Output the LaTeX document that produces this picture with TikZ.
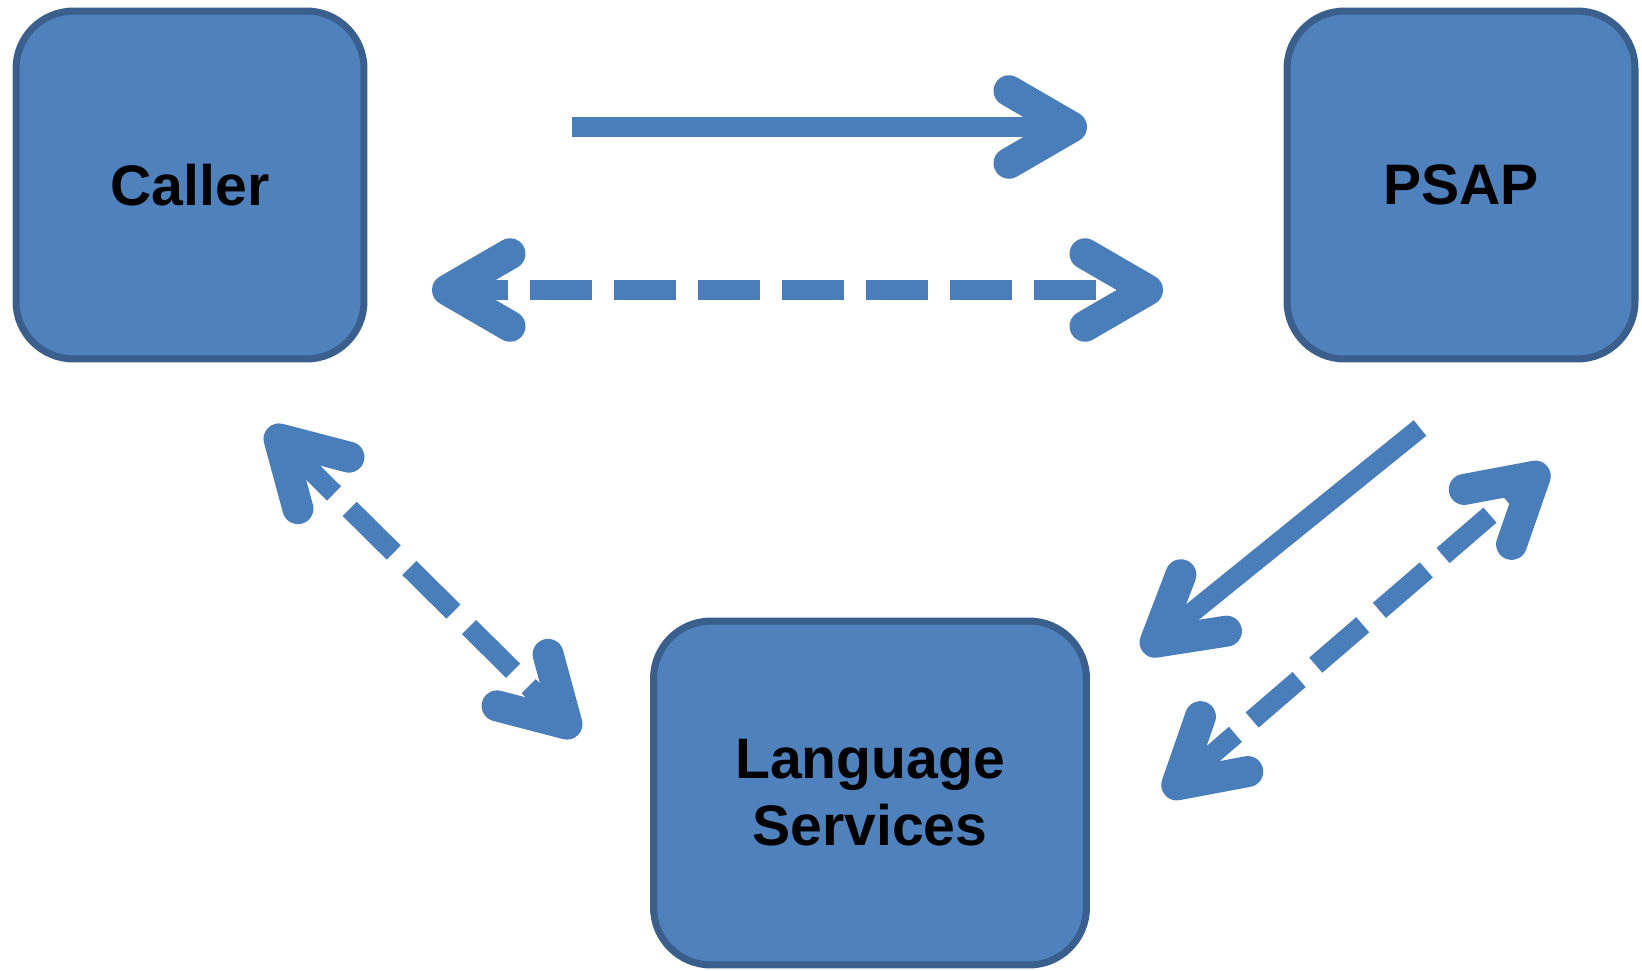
\documentclass[tikz,border=0pt]{standalone}
\usepackage{fontspec}
\setmainfont{Liberation Sans}
\usetikzlibrary{arrows.meta}
\definecolor{boxblue}{HTML}{4F81BD}
\definecolor{boxedge}{HTML}{3A5F8C}
\definecolor{arrowblue}{HTML}{4A7EBB}

\begin{document}
\begin{tikzpicture}[x=0.02cm, y=-0.02cm,
    box/.style={draw=boxedge, fill=boxblue, line width=4pt, rounded corners=1.15cm,
        minimum width=6.96cm, minimum height=6.96cm, align=center,
        font=\fontsize{32.5}{38}\selectfont\bfseries},
    barb/.tip={Straight Barb[length=1.25cm, width=1.45cm, line width=0.62cm, round]},
    flow/.style={draw=arrowblue, line width=0.4cm, -barb},
    both/.style={flow, barb-barb, dash pattern=on 1.24cm off 0.44cm}]
    \useasboundingbox (0,0) rectangle (1642,970);

    \node[box] (C) at (190,185) {Caller};
    \node[box] (P) at (1461,185) {PSAP};
    \node[box, minimum width=8.66cm, minimum height=6.88cm] (L) at (870,793) {Language\\Services};

    \coordinate (A1) at (572,127);
    \coordinate (A2) at (1087,127);
    \coordinate (B1) at (432,290);
    \coordinate (B2) at (1163,290);
    \coordinate (D1) at (268,428);
    \coordinate (D2) at (578,735);
    \coordinate (E1) at (1420,428);
    \coordinate (E2) at (1143,652);
    \coordinate (F1) at (1165,795);
    \coordinate (F2) at (1547,466);

    \draw[flow] (A1) -- (A2);
    \draw[both, dash phase=0.34cm] (B1) -- (B2);
    \draw[both] (D1) -- (D2);
    \draw[flow] (E1) -- (E2);
    \draw[both] (F1) -- (F2);

\end{tikzpicture}
\end{document}
